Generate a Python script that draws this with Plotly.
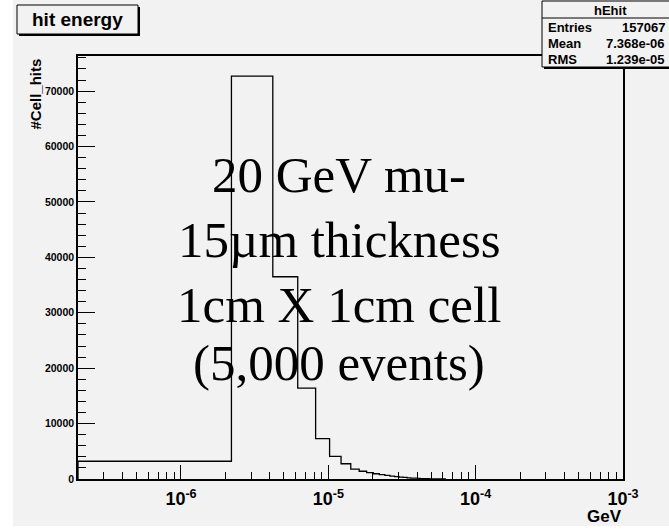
import plotly.graph_objects as go

# ---- data ----
bin_low = 2e-7          # GeV, lower edge of first bin
bin_width = 2e-6        # GeV
counts = [3200, 72700, 36500, 16400, 7300, 4100, 2750, 1800, 1400, 1150,
          950, 780, 640, 520, 430, 350, 280, 220, 175, 140,
          110, 85, 65, 50, 38, 28, 20, 14, 10, 6, 4]
x_major = [1e-6, 1e-5, 1e-4, 1e-3]
x_major_text = ["10<sup>-6</sup>", "10<sup>-5</sup>", "10<sup>-4</sup>", "10<sup>-3</sup>"]
y_major = [0, 10000, 20000, 30000, 40000, 50000, 60000, 70000]
y_major_text = [str(v) for v in y_major]
y_max = 76335
title_text = "hit energy"
stats_name = "hEhit"
stats_rows = [("Entries", "157067"), ("Mean", "7.368e-06"), ("RMS", "1.239e-05")]
overlay_lines = ["20 GeV mu-", "15µm thickness", "1cm X 1cm cell", "(5,000 events)"]

# ---- geometry ----
W, H = 669, 530
L, R, T, B = 78, 623, 56, 479
GRAY = "#f2f2f2"
SANS = "Liberation Sans"
SERIF = "Liberation Serif"

def xp(px):
    return (px - L) / (R - L)

def yp(py):
    return (B - py) / (B - T)

edges = [bin_low + i * bin_width for i in range(len(counts) + 1)]
xs = [edges[0]] + edges[:-1] + [edges[-1]]
ys = [0] + counts + [0]

fig = go.Figure()
fig.add_trace(go.Scatter(x=xs, y=ys, mode="lines", line=dict(color="black", width=1.3, shape="hv"),
                         hoverinfo="skip", showlegend=False))

minor_vals = [m * 10 ** e for e in range(-7, -3) for m in range(2, 10)]

fig.update_layout(
    width=W, height=H, autosize=False,
    margin=dict(l=L, r=W - R, t=T, b=H - B, pad=0),
    paper_bgcolor="white", plot_bgcolor=GRAY,
    showlegend=False,
    xaxis=dict(type="log", range=[-6.69897, -3], tickvals=x_major, ticktext=x_major_text,
               ticks="inside", ticklen=14, tickwidth=1, tickcolor="black", ticklabelstandoff=3,
               showgrid=False, zeroline=False, showline=True, linecolor="black", linewidth=1.5, mirror=True,
               tickfont=dict(family=SANS, size=18, color="black", weight="bold"),
               minor=dict(tickvals=minor_vals, ticks="inside", ticklen=7, tickcolor="black", tickwidth=1, showgrid=False)),
    yaxis=dict(range=[0, y_max], tickvals=y_major, ticktext=y_major_text,
               ticks="inside", ticklen=17, tickwidth=1, tickcolor="black",
               showgrid=False, zeroline=False, showline=True, linecolor="black", linewidth=1.5, mirror=True,
               tickfont=dict(family=SANS, size=10.5, color="black", weight="bold"),
               minor=dict(dtick=2000, ticks="inside", ticklen=8, tickcolor="black", tickwidth=1, showgrid=False)),
)

shapes = []
# pad background
shapes.append(dict(type="rect", xref="paper", yref="paper", x0=xp(13), x1=xp(669), y0=yp(526), y1=yp(0),
                   fillcolor=GRAY, line=dict(width=0), layer="below"))
# title box with shadow
shapes.append(dict(type="rect", xref="paper", yref="paper", x0=xp(19), x1=xp(140), y0=yp(36), y1=yp(7),
                   fillcolor="black", line=dict(width=0)))
shapes.append(dict(type="rect", xref="paper", yref="paper", x0=xp(17), x1=xp(138), y0=yp(34), y1=yp(5),
                   fillcolor=GRAY, line=dict(color="black", width=1)))
# stats box with shadow
shapes.append(dict(type="rect", xref="paper", yref="paper", x0=xp(544), x1=xp(672), y0=yp(69), y1=yp(3),
                   fillcolor="black", line=dict(width=0)))
shapes.append(dict(type="rect", xref="paper", yref="paper", x0=xp(542), x1=xp(670), y0=yp(67), y1=yp(1),
                   fillcolor=GRAY, line=dict(color="black", width=1)))
shapes.append(dict(type="line", xref="paper", yref="paper", x0=xp(542), x1=xp(669), y0=yp(18), y1=yp(18),
                   line=dict(color="black", width=1)))
fig.update_layout(shapes=shapes)

ann = []
ann.append(dict(text=title_text, x=xp(77.5), y=yp(19.5), xref="paper", yref="paper", showarrow=False,
                xanchor="center", yanchor="middle", font=dict(family=SANS, size=19, color="black", weight="bold")))
ann.append(dict(text=stats_name, x=xp(610), y=yp(10), xref="paper", yref="paper", showarrow=False,
                xanchor="center", yanchor="middle", font=dict(family=SANS, size=13, color="black", weight="bold")))
row_y = [27, 44, 59]
for (lab, val), ry in zip(stats_rows, row_y):
    ann.append(dict(text=lab, x=xp(546), y=yp(ry), xref="paper", yref="paper", showarrow=False,
                    xanchor="left", yanchor="middle", font=dict(family=SANS, size=13, color="black", weight="bold")))
    ann.append(dict(text=val, x=xp(667), y=yp(ry), xref="paper", yref="paper", showarrow=False,
                    xanchor="right", yanchor="middle", font=dict(family=SANS, size=13, color="black", weight="bold")))
# axis titles
ann.append(dict(text="#Cell_hits", x=xp(35), y=yp(57), xref="paper", yref="paper", showarrow=False,
                textangle=-90, xanchor="center", yanchor="top",
                font=dict(family=SANS, size=15, color="black", weight="bold")))
ann.append(dict(text="GeV", x=xp(623), y=yp(527), xref="paper", yref="paper", showarrow=False,
                xanchor="right", yanchor="bottom", borderpad=0,
                font=dict(family=SANS, size=17, color="black", weight="bold")))
# overlay text
centers = [175, 240, 305, 363]
for line, cy in zip(overlay_lines, centers):
    ann.append(dict(text=line, x=xp(339), y=yp(cy), xref="paper", yref="paper", showarrow=False,
                    xanchor="center", yanchor="middle", font=dict(family=SERIF, size=51, color="black")))
fig.update_layout(annotations=ann)

fig.write_html("out.html")
